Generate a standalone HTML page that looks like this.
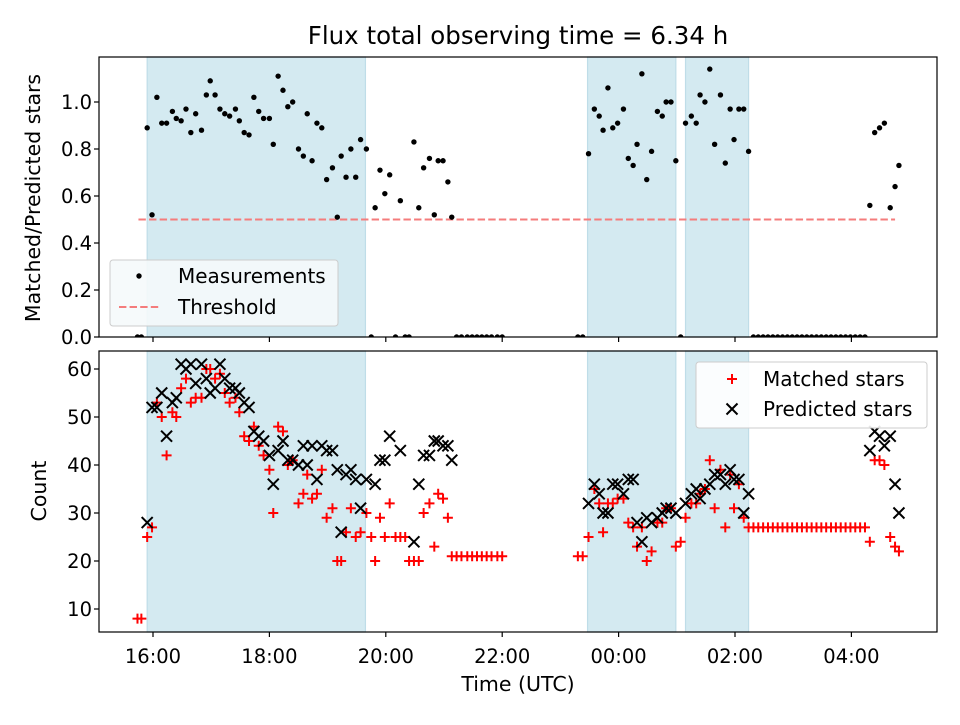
<!DOCTYPE html>
<html><head><meta charset="utf-8">
<style>
body{margin:0;background:#fff;}
svg text{font-family:"DejaVu Sans","Liberation Sans",sans-serif;fill:#000;}
</style></head>
<body>
<svg id="chart" width="960" height="720" viewBox="0 0 960 720" xmlns="http://www.w3.org/2000/svg">
<defs>
<clipPath id="clipTop"><rect x="99" y="57" width="838" height="280"/></clipPath>
<clipPath id="clipBot"><rect x="99" y="351" width="838" height="281"/></clipPath>
</defs>
<rect width="960" height="720" fill="#fff"/>
<text x="518" y="44" font-size="24.5" text-anchor="middle">Flux total observing time = 6.34 h</text>
<g id="topPanel"></g>
<g id="botPanel"></g>
<text x="518" y="691" font-size="20.5" text-anchor="middle">Time (UTC)</text>
<text transform="translate(40,198) rotate(-90)" font-size="20.5" text-anchor="middle">Matched/Predicted stars</text>
<text transform="translate(46,491) rotate(-90)" font-size="20.5" text-anchor="middle">Count</text>
</svg>
<script>
// minutes since 16:00 UTC
const times = [-16,-12,-6,-1,4,9,14,20,24,29,34,39,44,50,55,59,64,69,74,79,85,89,94,99,104,109,114,120,124,129,134,139,144,150,155,159,164,169,174,179,185,190,194,199,204,209,214,220,225,229,234,239,244,250,255,260,264,269,274,279,285,290,294,299,304,308,313,318,324,329,334,339,344,349,355,360,
438,443,449,455,460,464,469,474,479,485,490,495,499,504,509,514,520,525,529,534,539,544,549,555,560,564,569,574,579,585,590,595,599,604,609,614,
619,624,629,634,639,644,649,654,659,664,669,674,679,684,689,694,699,704,709,714,719,724,729,734,739,744,749,754,760,765,769];
const ratio = [0,0,.89,.52,1.02,.91,.91,.96,.93,.92,.97,.87,.95,.88,1.03,1.09,1.03,.97,.95,.94,.97,.92,.87,.86,1.02,.96,.93,.93,.82,1.11,1.05,.98,1.0,.80,.77,.95,.75,.91,.89,.67,.72,.51,.77,.68,.80,.68,.84,.80,0,.55,.71,.61,.69,0,.58,0,0,.83,.55,.72,.76,.52,.75,.75,.66,.51,0,0,0,0,0,0,0,0,0,0,
0,0,.78,.97,.94,.88,1.06,.89,.91,.97,.76,.73,.82,1.12,.67,.79,.96,.94,1.0,1.0,.75,0,.91,.94,.91,1.03,1.0,1.14,.82,1.03,.74,.97,.84,.97,.97,.79,
0,0,0,0,0,0,0,0,0,0,0,0,0,0,0,0,0,0,0,0,0,0,0,0,.56,.87,.89,.91,.55,.64,.73];
const matched = [8,8,25,27,53,50,42,51,50,56,58,53,54,54,60,60,58,59,55,53,54,51,46,45,48,44,42,39,30,48,47,40,41,32,34,38,33,34,39,29,31,20,20,26,31,25,26,30,25,20,29,25,32,25,25,25,20,20,20,30,32,23,34,33,29,21,21,21,21,21,21,21,21,21,21,21,
21,21,25,35,32,26,32,32,33,33,28,27,23,27,20,22,28,28,31,31,23,24,29,32,32,34,35,41,31,39,27,38,31,36,29,27,
27,27,27,27,27,27,27,27,27,27,27,27,27,27,27,27,27,27,27,27,27,27,27,27,24,41,41,40,25,23,22];
const predicted = [null,null,28,52,52,55,46,53,54,61,60,61,57,61,58,55,56,61,58,56,56,55,53,52,47,46,45,42,36,43,45,41,41,40,44,40,44,37,44,43,43,39,26,38,39,37,31,37,null,36,41,41,46,null,43,null,null,24,36,42,42,45,45,44,44,41,null,null,null,null,null,null,null,null,null,null,
null,null,32,36,34,30,30,36,36,34,37,37,28,24,29,28,29,30,31,31,30,null,32,34,35,33,35,36,38,38,36,39,37,37,30,34,
null,null,null,null,null,null,null,null,null,null,null,null,null,null,null,null,null,null,null,null,null,null,null,null,43,47,46,44,46,36,30];
const shadeStarts = [-6, 448, 549];
const shadeEnds = [219, 539, 614];
const thresholdValue = 0.5;
const thresholdStart = -15;
const thresholdEnd = 765;
const xTickMinutes = [0,120,240,360,480,600,720];
const xTickLabels = ["16:00","18:00","20:00","22:00","00:00","02:00","04:00"];
const topTicks = [0,0.2,0.4,0.6,0.8,1.0];
const topTickLabels = ["0.0","0.2","0.4","0.6","0.8","1.0"];
const botTicks = [10,20,30,40,50,60];

const NS = "http://www.w3.org/2000/svg";
const AL=99,AR=937,TT=57,TB=337,BT=351,BB=632;
const xS = m => 153 + m*0.97;
const yTop = v => 337 - v*235;
const yBot = v => 609 - (v-10)*4.8;
function mk(tag, attrs, parent){const e=document.createElementNS(NS,tag);for(const k in attrs)e.setAttribute(k,attrs[k]);parent.appendChild(e);return e;}
const topG=document.getElementById('topPanel'), botG=document.getElementById('botPanel');

[[topG,TT,TB],[botG,BT,BB]].forEach(([g,t,b])=>{
  for(let i=0;i<shadeStarts.length;i++){
    const r=mk('rect',{x:xS(shadeStarts[i]),y:t,width:xS(shadeEnds[i])-xS(shadeStarts[i]),height:b-t,fill:'#d4eaf1',stroke:'#bfdde8','stroke-width':1.2},g);
    
    
  }
});

const thr=mk('line',{x1:xS(thresholdStart),x2:xS(thresholdEnd),y1:yTop(thresholdValue),y2:yTop(thresholdValue),stroke:'#f47c7c','stroke-width':2,'stroke-dasharray':'7.4,3.2'},topG);


const tp=mk('g',{'clip-path':'url(#clipTop)'},topG);
times.forEach((m,i)=>{
  if(ratio[i]===undefined||ratio[i]===null)return;
  const c=mk('circle',{cx:xS(m),cy:yTop(ratio[i]),r:2.7,fill:'#000'},tp);
  
  
});
const bp=mk('g',{'clip-path':'url(#clipBot)'},botG);
times.forEach((m,i)=>{
  if(matched[i]===undefined||matched[i]===null)return;
  const x=xS(m),y=yBot(matched[i]);
  const p=mk('path',{d:`M${x-5},${y}H${x+5}M${x},${y-5}V${y+5}`,stroke:'#f00','stroke-width':2,fill:'none'},bp);
  
  
});
times.forEach((m,i)=>{
  if(predicted[i]===undefined||predicted[i]===null)return;
  const x=xS(m),y=yBot(predicted[i]);
  const p=mk('path',{d:`M${x-5.5},${y-5.5}L${x+5.5},${y+5.5}M${x-5.5},${y+5.5}L${x+5.5},${y-5.5}`,stroke:'#000','stroke-width':2,fill:'none'},bp);
  
  
});

[[topG,TT,TB,false],[botG,BT,BB,true]].forEach(([g,t,b,lab])=>{
  const f=mk('rect',{x:AL,y:t,width:AR-AL,height:b-t,fill:'none',stroke:'#000','stroke-width':1.2},g);
  
  
  xTickMinutes.forEach((m,i)=>{
    mk('line',{x1:xS(m),x2:xS(m),y1:b,y2:b+5,stroke:'#000','stroke-width':1.2},g);
    if(lab){
      const tx=mk('text',{x:xS(m),y:b+31,'font-size':19.5,'text-anchor':'middle'},g);
      tx.textContent=xTickLabels[i];
      
      
    }
  });
});
topTicks.forEach((v,i)=>{
  mk('line',{x1:AL-5,x2:AL,y1:yTop(v),y2:yTop(v),stroke:'#000','stroke-width':1.2},topG);
  const tx=mk('text',{x:AL-7,y:yTop(v)+7,'font-size':19.5,'text-anchor':'end'},topG);
  tx.textContent=topTickLabels[i];
  
  
});
botTicks.forEach(v=>{
  mk('line',{x1:AL-5,x2:AL,y1:yBot(v),y2:yBot(v),stroke:'#000','stroke-width':1.2},botG);
  const tx=mk('text',{x:AL-7,y:yBot(v)+7,'font-size':19.5,'text-anchor':'end'},botG);
  tx.textContent=String(v);
  
  
});

const lg1=mk('g',{},topG);


mk('rect',{x:110,y:260,width:228,height:66,rx:3,fill:'#f5f9fb','fill-opacity':0.9,stroke:'#ccc','stroke-width':1},lg1);
mk('circle',{cx:139,cy:276,r:2.7,fill:'#000'},lg1);
let t1=mk('text',{x:178,y:283,'font-size':20},lg1);t1.textContent='Measurements';
mk('line',{x1:119,x2:160,y1:307,y2:307,stroke:'#f47c7c','stroke-width':2,'stroke-dasharray':'7.4,3.2'},lg1);
let t2=mk('text',{x:178,y:314,'font-size':20},lg1);t2.textContent='Threshold';

const lg2=mk('g',{},botG);


mk('rect',{x:696,y:362,width:231,height:66,rx:3,fill:'#fff','fill-opacity':0.9,stroke:'#ccc','stroke-width':1},lg2);
mk('path',{d:'M727,379H737M732,374V384',stroke:'#f00','stroke-width':2},lg2);
let t3=mk('text',{x:763,y:386,'font-size':20},lg2);t3.textContent='Matched stars';
mk('path',{d:'M726.5,403.5L737.5,414.5M726.5,414.5L737.5,403.5',stroke:'#000','stroke-width':2},lg2);
let t4=mk('text',{x:763,y:416,'font-size':20},lg2);t4.textContent='Predicted stars';
</script>
</body></html>
